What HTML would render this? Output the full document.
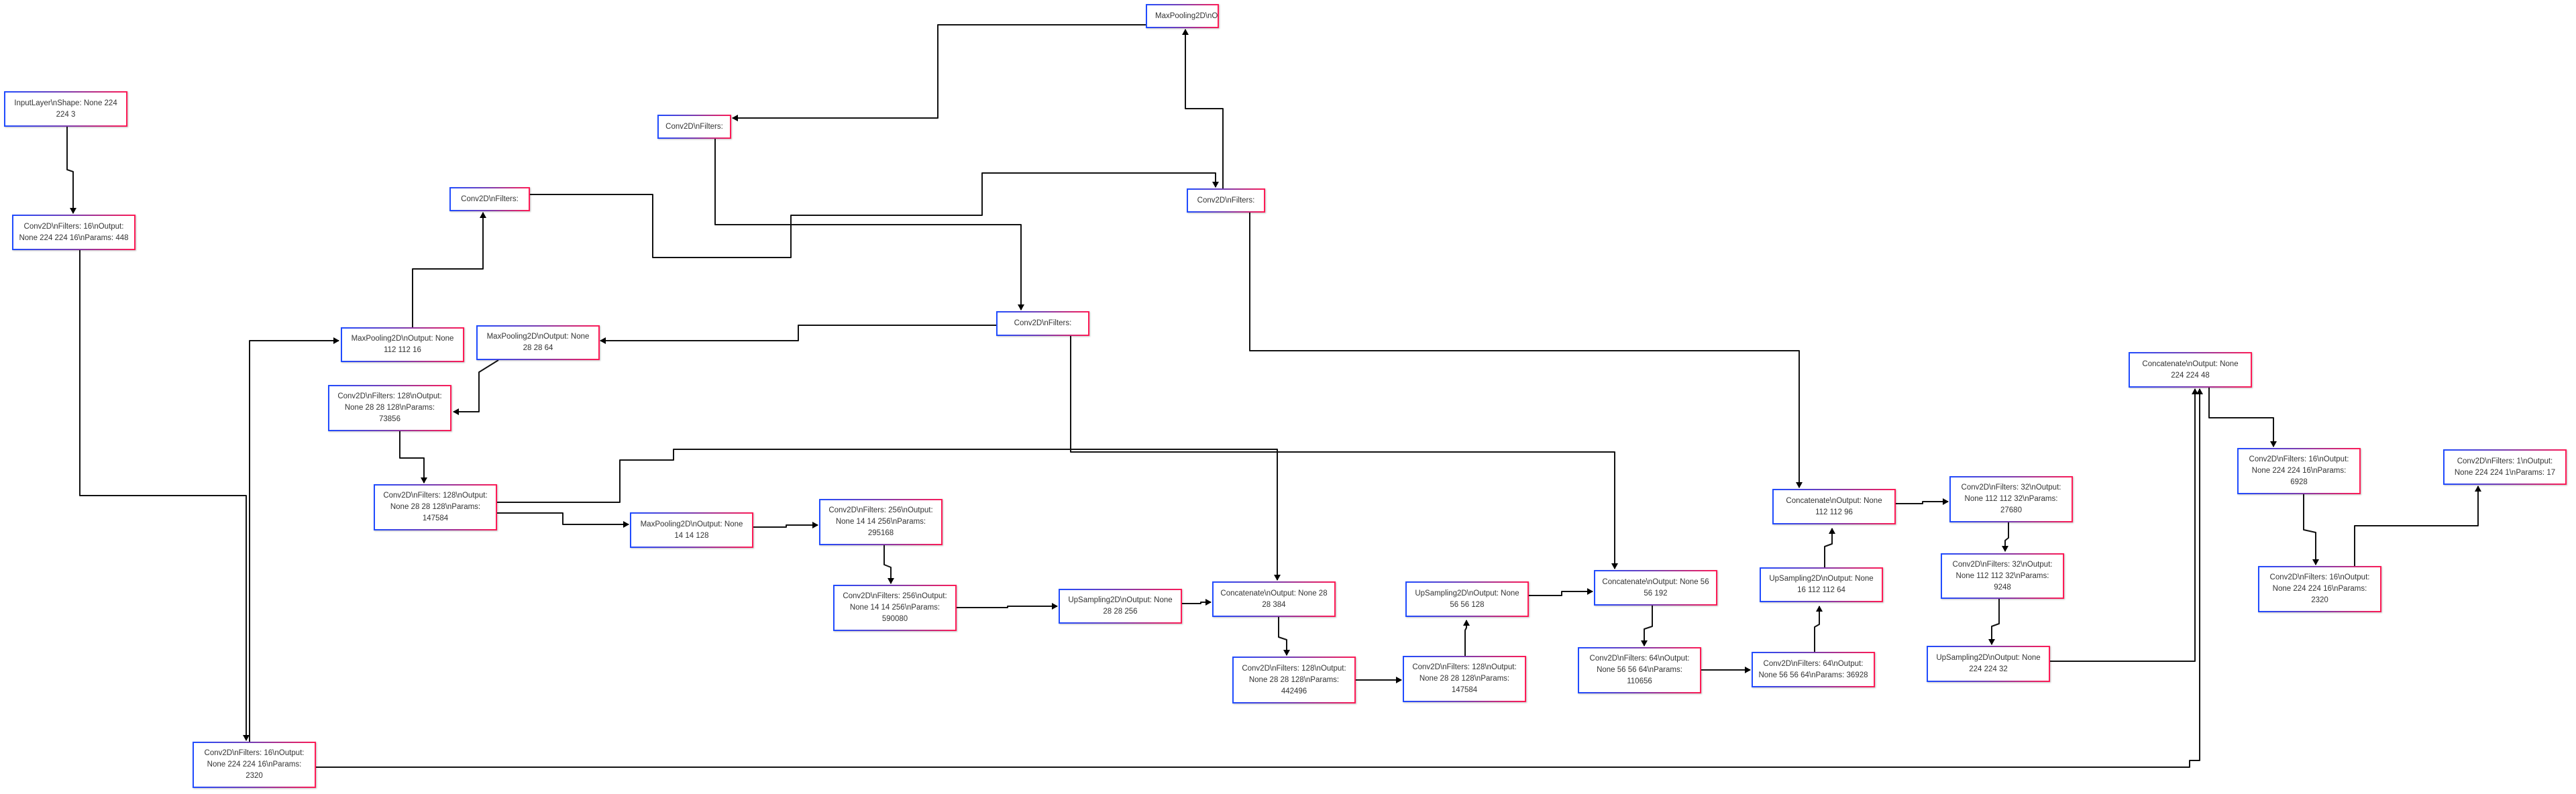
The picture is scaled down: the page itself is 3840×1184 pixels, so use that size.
<!DOCTYPE html>
<html><head><meta charset="utf-8">
<style>
html,body{margin:0;padding:0;background:#fff;}
#c{position:relative;width:3840px;height:1184px;overflow:hidden;background:#fff;}
.n{position:absolute;box-sizing:border-box;border:2px solid;border-image:linear-gradient(to right,#1f4bff,#7a3bb0 50%,#ff1a55) 1;background:#fff;box-shadow:1px 1px 2px rgba(0,0,0,0.25);display:flex;align-items:center;justify-content:center;text-align:center;font-family:"Liberation Sans",Arial,sans-serif;font-size:11.5px;line-height:17px;color:#333;overflow:hidden;white-space:nowrap;}
svg{position:absolute;left:0;top:0;}
</style></head><body><div id="c">
<svg width="3840" height="1184" viewBox="0 0 3840 1184">
<defs><marker id="a" markerWidth="10" markerHeight="10" refX="8" refY="5" orient="auto" markerUnits="userSpaceOnUse"><path d="M0,0 L9,5 L0,10 z" fill="#000"/></marker></defs>
<g fill="none" stroke="#111" stroke-width="2" stroke-linejoin="round" marker-end="url(#a)">
<polyline points="100,189 100,253 109,256 109,318"/>
<polyline points="119,373 119,739 367,739 367,1104"/>
<polyline points="372,1106 372,508 505,508"/>
<polyline points="615,488 615,401 720,401 720,317"/>
<polyline points="790,290 973,290 973,384 1179,384 1179,321 1464,321 1464,258 1812,258 1812,279"/>
<polyline points="1066,207 1066,335 1522,335 1522,462"/>
<polyline points="1708,37 1398,37 1398,176 1092,176"/>
<polyline points="1823,281 1823,162 1767,162 1767,44"/>
<polyline points="1863,317 1863,523 2682,523 2682,727"/>
<polyline points="1485,485 1190,485 1190,508 895,508"/>
<polyline points="1596,501 1596,674 2407,674 2407,848"/>
<polyline points="743,537 714,555 714,614 676,614"/>
<polyline points="596,643 596,683 632,683 632,720"/>
<polyline points="740,749 924,749 924,686 1004,686 1004,670 1904,670 1904,865"/>
<polyline points="740,765 839,765 839,782 937,782"/>
<polyline points="1123,786 1172,786 1172,783 1219,783"/>
<polyline points="1318,813 1318,842 1328,846 1328,870"/>
<polyline points="1425,906 1502,906 1502,904 1576,904"/>
<polyline points="1762,900 1790,900 1790,898 1805,898"/>
<polyline points="1906,920 1906,950 1918,954 1918,977"/>
<polyline points="2021,1014 2089,1014"/>
<polyline points="2184,978 2184,940 2186,936 2186,925"/>
<polyline points="2279,888 2328,888 2328,882 2374,882"/>
<polyline points="2463,903 2463,934 2451,938 2451,963"/>
<polyline points="2535,999 2609,999"/>
<polyline points="2705,972 2705,935 2712,931 2712,904"/>
<polyline points="2720,846 2720,815 2731,811 2731,788"/>
<polyline points="2826,751 2866,751 2866,748 2904,748"/>
<polyline points="2994,779 2994,802 2989,806 2989,822"/>
<polyline points="2980,893 2980,930 2969,934 2969,961"/>
<polyline points="3056,986 3272,986 3272,580"/>
<polyline points="471,1144 3264,1144 3264,1134 3279,1134 3279,580"/>
<polyline points="3293,578 3293,623 3389,623 3389,666"/>
<polyline points="3434,737 3434,790 3452,794 3452,842"/>
<polyline points="3510,844 3510,784 3694,784 3694,725"/>
</g></svg>
<div class="n" style="left:6px;top:136px;width:184px;height:53px">InputLayer\nShape: None 224<br>224 3</div>
<div class="n" style="left:18px;top:320px;width:184px;height:53px">Conv2D\nFilters: 16\nOutput:<br>None 224 224 16\nParams: 448</div>
<div class="n" style="left:670px;top:279px;width:120px;height:36px">Conv2D\nFilters:</div>
<div class="n" style="left:508px;top:488px;width:184px;height:52px">MaxPooling2D\nOutput: None<br>112 112 16</div>
<div class="n" style="left:710px;top:485px;width:184px;height:52px">MaxPooling2D\nOutput: None<br>28 28 64</div>
<div class="n" style="left:489px;top:574px;width:184px;height:69px">Conv2D\nFilters: 128\nOutput:<br>None 28 28 128\nParams:<br>73856</div>
<div class="n" style="left:1708px;top:6px;width:109px;height:36px;justify-content:flex-start;padding-left:12px">MaxPooling2D\nOutput</div>
<div class="n" style="left:980px;top:171px;width:110px;height:36px">Conv2D\nFilters:</div>
<div class="n" style="left:1769px;top:281px;width:117px;height:36px">Conv2D\nFilters:</div>
<div class="n" style="left:1485px;top:464px;width:139px;height:37px">Conv2D\nFilters:</div>
<div class="n" style="left:557px;top:722px;width:184px;height:69px">Conv2D\nFilters: 128\nOutput:<br>None 28 28 128\nParams:<br>147584</div>
<div class="n" style="left:287px;top:1106px;width:184px;height:69px">Conv2D\nFilters: 16\nOutput:<br>None 224 224 16\nParams:<br>2320</div>
<div class="n" style="left:939px;top:764px;width:184px;height:53px">MaxPooling2D\nOutput: None<br>14 14 128</div>
<div class="n" style="left:1221px;top:744px;width:184px;height:69px">Conv2D\nFilters: 256\nOutput:<br>None 14 14 256\nParams:<br>295168</div>
<div class="n" style="left:1242px;top:872px;width:184px;height:69px">Conv2D\nFilters: 256\nOutput:<br>None 14 14 256\nParams:<br>590080</div>
<div class="n" style="left:1578px;top:878px;width:184px;height:52px">UpSampling2D\nOutput: None<br>28 28 256</div>
<div class="n" style="left:1807px;top:867px;width:184px;height:53px">Concatenate\nOutput: None 28<br>28 384</div>
<div class="n" style="left:1837px;top:979px;width:184px;height:70px">Conv2D\nFilters: 128\nOutput:<br>None 28 28 128\nParams:<br>442496</div>
<div class="n" style="left:2095px;top:867px;width:184px;height:53px">UpSampling2D\nOutput: None<br>56 56 128</div>
<div class="n" style="left:2091px;top:978px;width:184px;height:69px">Conv2D\nFilters: 128\nOutput:<br>None 28 28 128\nParams:<br>147584</div>
<div class="n" style="left:2376px;top:850px;width:184px;height:53px">Concatenate\nOutput: None 56<br>56 192</div>
<div class="n" style="left:2352px;top:965px;width:184px;height:69px">Conv2D\nFilters: 64\nOutput:<br>None 56 56 64\nParams:<br>110656</div>
<div class="n" style="left:2623px;top:846px;width:184px;height:52px">UpSampling2D\nOutput: None<br>16 112 112 64</div>
<div class="n" style="left:2611px;top:972px;width:184px;height:53px">Conv2D\nFilters: 64\nOutput:<br>None 56 56 64\nParams: 36928</div>
<div class="n" style="left:2642px;top:729px;width:184px;height:53px">Concatenate\nOutput: None<br>112 112 96</div>
<div class="n" style="left:2906px;top:710px;width:184px;height:69px">Conv2D\nFilters: 32\nOutput:<br>None 112 112 32\nParams:<br>27680</div>
<div class="n" style="left:2893px;top:825px;width:184px;height:68px">Conv2D\nFilters: 32\nOutput:<br>None 112 112 32\nParams:<br>9248</div>
<div class="n" style="left:2872px;top:963px;width:184px;height:54px">UpSampling2D\nOutput: None<br>224 224 32</div>
<div class="n" style="left:3173px;top:525px;width:184px;height:53px">Concatenate\nOutput: None<br>224 224 48</div>
<div class="n" style="left:3335px;top:668px;width:184px;height:69px">Conv2D\nFilters: 16\nOutput:<br>None 224 224 16\nParams:<br>6928</div>
<div class="n" style="left:3366px;top:844px;width:184px;height:69px">Conv2D\nFilters: 16\nOutput:<br>None 224 224 16\nParams:<br>2320</div>
<div class="n" style="left:3642px;top:670px;width:184px;height:53px">Conv2D\nFilters: 1\nOutput:<br>None 224 224 1\nParams: 17</div>
</div></body></html>
